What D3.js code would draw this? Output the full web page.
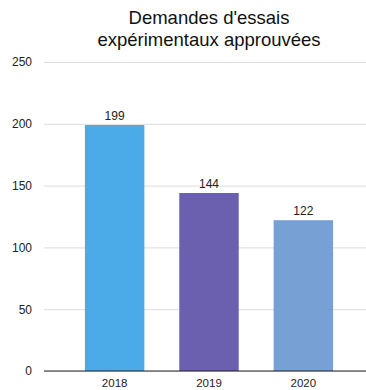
<!DOCTYPE html>
<html>
<head>
<meta charset="utf-8">
<script src="https://cdn.jsdelivr.net/npm/d3@7/dist/d3.min.js"></script>
<style>
  html, body { margin: 0; padding: 0; background: #fff; }
  svg { display: block; }
  text { font-family: "Liberation Sans", Arial, Helvetica, sans-serif; }
</style>
</head>
<body>
<svg id="chart" width="366" height="390"></svg>
<script>
const years = ["2018", "2019", "2020"];
const approved = [199, 144, 122];
const barColors = ["#4BAAE8", "#6B60B0", "#77A0D4"];
const yTicks = [0, 50, 100, 150, 200, 250];
const titleLines = ["Demandes d'essais", "expérimentaux approuvées"];

const svg = d3.select("#chart");
const plot = { left: 44, right: 366, top: 62, bottom: 371 };

const x = d3.scaleBand()
  .domain(years)
  .range([50, 368])
  .paddingInner(0.37)
  .paddingOuter(0.37);

const y = d3.scaleLinear()
  .domain([0, 250])
  .range([plot.bottom, plot.top]);

// title
svg.append("g")
  .selectAll("text")
  .data(titleLines)
  .join("text")
  .attr("x", 209)
  .attr("y", (d, i) => 24 + i * 22)
  .attr("text-anchor", "middle")
  .attr("font-size", 18.5)
  .attr("fill", "#111")
  .text(d => d);

// horizontal gridlines + y labels
const yAxis = d3.axisLeft(y)
  .tickValues(yTicks)
  .tickSize(-(plot.right - plot.left))
  .tickPadding(12);

const gy = svg.append("g")
  .attr("transform", `translate(${plot.left},0)`)
  .call(yAxis);
gy.select(".domain").remove();
gy.selectAll(".tick line")
  .attr("stroke", "#dcdcdc")
  .attr("stroke-width", 1);
gy.selectAll(".tick text")
  .attr("font-size", 12)
  .attr("fill", "#222")
  .attr("font-family", "Liberation Sans, Arial, sans-serif");

// bars
svg.append("g")
  .selectAll("rect")
  .data(years)
  .join("rect")
  .attr("x", d => x(d))
  .attr("width", x.bandwidth())
  .attr("y", (d, i) => y(approved[i]))
  .attr("height", (d, i) => y(0) - y(approved[i]))
  .attr("fill", (d, i) => barColors[i]);

// value labels
svg.append("g")
  .selectAll("text")
  .data(years)
  .join("text")
  .attr("x", d => x(d) + x.bandwidth() / 2)
  .attr("y", (d, i) => y(approved[i]) - 5)
  .attr("text-anchor", "middle")
  .attr("font-size", 12)
  .attr("fill", "#222")
  .text((d, i) => approved[i]);

// x axis baseline and labels
const xAxis = d3.axisBottom(x).tickSize(0).tickPadding(8);
const gx = svg.append("g")
  .attr("transform", `translate(0,${plot.bottom})`)
  .call(xAxis);
gx.select(".domain").remove();
gx.selectAll(".tick text")
  .attr("font-size", 11.5)
  .attr("fill", "#222")
  .attr("font-family", "Liberation Sans, Arial, sans-serif");
svg.append("line")
  .attr("x1", plot.left)
  .attr("x2", plot.right)
  .attr("y1", y(0))
  .attr("y2", y(0))
  .attr("stroke", "#222")
  .attr("stroke-width", 1.2);
</script>
</body>
</html>
